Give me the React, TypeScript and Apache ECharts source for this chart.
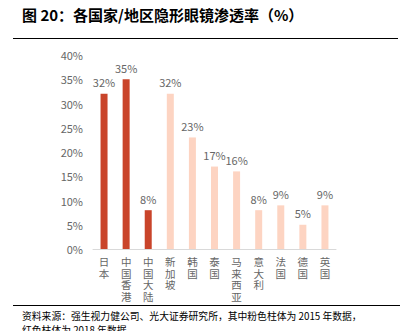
import React, { useEffect, useRef } from "react";
import * as echarts from "echarts";

const categories = ["日本", "中国香港", "中国大陆", "新加坡", "韩国", "泰国", "马来西亚", "意大利", "法国", "德国", "英国"];
const values = [32, 35, 8, 32, 23, 17, 16, 8, 9, 5, 9];
const is2018 = [true, true, true, false, false, false, false, false, false, false, false];
const yTicks = { min: 0, max: 40, interval: 5 };

const RED = "#C9442A";
const PINK = "#FDD4C2";
const FONT = "'Noto Sans CJK SC', 'Noto Sans', sans-serif";

export default function App() {
  const ref = useRef<HTMLDivElement>(null);
  useEffect(() => {
    if (!ref.current) return;
    const chart = echarts.init(ref.current, null, { renderer: "svg" });
    chart.setOption({
      animation: false,
      textStyle: { fontFamily: FONT },
      grid: { left: 93, right: 66, top: 55, bottom: 82 },
      xAxis: {
        type: "category",
        data: categories,
        axisLine: { show: true, lineStyle: { color: "#D9D9D9", width: 1 } },
        axisTick: { show: false },
        axisLabel: {
          interval: 0,
          color: "#666666",
          fontSize: 10.5,
          lineHeight: 11.5,
          margin: 7,
          fontFamily: FONT,
          formatter: (v: string) => v.split("").join("\n"),
        },
      },
      yAxis: {
        type: "value",
        min: yTicks.min,
        max: yTicks.max,
        interval: yTicks.interval,
        axisLine: { show: false },
        axisTick: { show: false },
        splitLine: { show: false },
        axisLabel: {
          color: "#666666",
          fontSize: 11,
          margin: 10,
          fontFamily: FONT,
          formatter: "{value}%",
        },
      },
      series: [
        {
          type: "bar",
          barWidth: 7,
          data: values.map((v, i) => ({
            value: v,
            itemStyle: { color: is2018[i] ? RED : PINK },
          })),
          label: {
            show: true,
            position: "top",
            distance: 6,
            color: "#666666",
            fontSize: 11,
            fontFamily: FONT,
            formatter: "{c}%",
          },
        },
      ],
      graphic: [
        {
          type: "text",
          left: 22,
          top: 7,
          style: {
            text: "图 20：各国家/地区隐形眼镜渗透率（%）",
            fontSize: 15,
            fontWeight: "bold",
            fill: "#000",
            fontFamily: FONT,
          },
        },
        {
          type: "line",
          shape: { x1: 13, y1: 38.5, x2: 398, y2: 38.5 },
          style: { stroke: "#000", lineWidth: 1 },
        },
        {
          type: "line",
          shape: { x1: 13, y1: 305.5, x2: 400, y2: 305.5 },
          style: { stroke: "#000", lineWidth: 1 },
        },
        {
          type: "text",
          left: 22,
          top: 309,
          style: {
            text: "资料来源：强生视力健公司、光大证券研究所，其中粉色柱体为 2015 年数据，\n红色柱体为 2018 年数据",
            fontSize: 9.8,
            lineHeight: 14,
            fill: "#000",
            fontFamily: FONT,
          },
        },
      ],
    });
    return () => chart.dispose();
  }, []);
  return <div ref={ref} style={{ width: 402, height: 331, position: "absolute", left: 0, top: 0 }} />;
}
